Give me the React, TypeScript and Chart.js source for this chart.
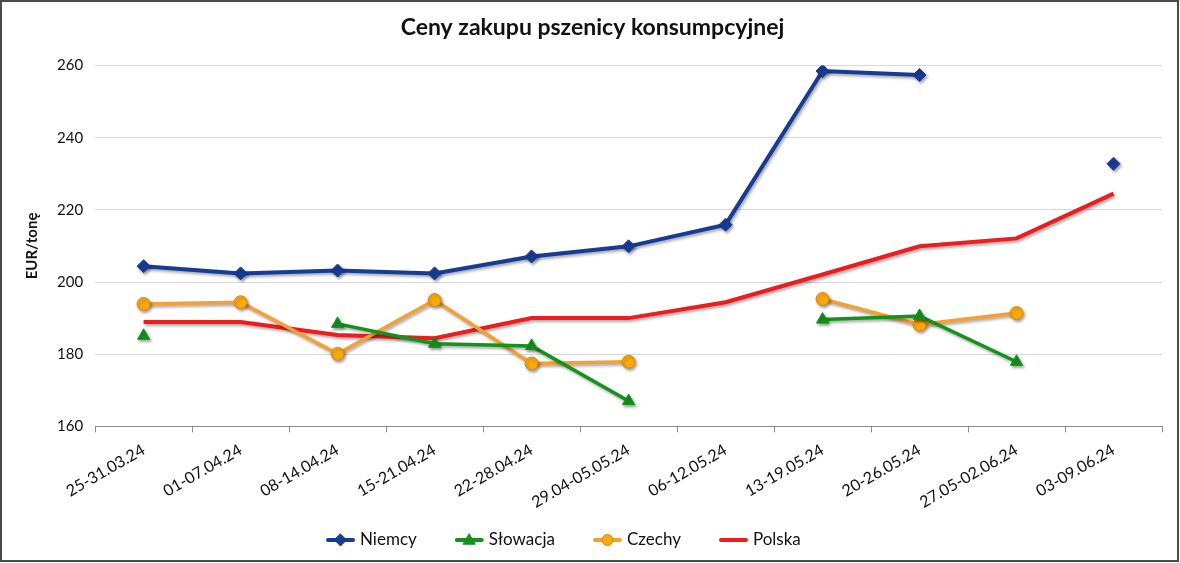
import React, { useEffect, useRef } from "react";
import { Chart, registerables } from "chart.js";

Chart.register(...registerables);

const categories = [
  "25-31.03.24",
  "01-07.04.24",
  "08-14.04.24",
  "15-21.04.24",
  "22-28.04.24",
  "29.04-05.05.24",
  "06-12.05.24",
  "13-19.05.24",
  "20-26.05.24",
  "27.05-02.06.24",
  "03-09.06.24",
];

const niemcy = [204.4, 202.4, 203.2, 202.4, 207.1, 209.9, 215.9, 258.5, 257.4, null, 232.8];
const slowacja = [185.1, null, 188.4, 182.9, 182.3, 167.0, null, 189.6, 190.6, 177.9, null];
const czechy = [193.9, 194.4, 180.1, 195.0, 177.4, 177.9, null, 195.3, 188.2, 191.4, null];
const polska = [188.9, 188.9, 185.3, 184.4, 190.0, 190.0, 194.4, 202.1, 209.9, 212.1, 224.5];

const yTicks = [160, 180, 200, 220, 240, 260];

const FONT = "Lato, 'Open Sans', sans-serif";

const seriesNames = ["Niemcy", "Słowacja", "Czechy", "Polska"];
const seriesColors = ["#173C94", "#12931A", "#F5A033", "#EE1C1C"];
const markerStyles = ["rectRot", "triangle", "circle", false] as const;

export default function App() {
  const ref = useRef<HTMLCanvasElement | null>(null);

  useEffect(() => {
    document.body.style.margin = "0";
    const canvas = ref.current;
    if (!canvas) return;

    const framePlugin = {
      id: "frame",
      beforeDraw(chart: any) {
        const { ctx, width, height } = chart;
        ctx.save();
        ctx.fillStyle = "#ffffff";
        ctx.fillRect(0, 0, width, height);
        ctx.restore();
      },
      afterDraw(chart: any) {
        const { ctx, width, height } = chart;
        ctx.save();
        ctx.strokeStyle = "#4a4a4a";
        ctx.lineWidth = 2;
        ctx.strokeRect(1, 1, width - 3, height - 3);
        ctx.restore();
      },
    };

    const shadowPlugin = {
      id: "shadow",
      beforeDatasetsDraw(chart: any) {
        const ctx = chart.ctx;
        ctx.save();
        ctx.shadowColor = "rgba(0,0,0,0.35)";
        ctx.shadowBlur = 3;
        ctx.shadowOffsetX = 1.5;
        ctx.shadowOffsetY = 2;
      },
      afterDatasetsDraw(chart: any) {
        chart.ctx.restore();
      },
    };

    const legendPlugin = {
      id: "customLegend",
      afterDraw(chart: any) {
        const ctx = chart.ctx;
        ctx.save();
        ctx.font = `17px ${FONT}`;
        const iconW = 27;
        const gap = 6;
        const spacing = 39;
        const widths = seriesNames.map((n) => iconW + gap + ctx.measureText(n).width);
        let x = 327;
        const y = 540;
        chart.data.datasets.forEach((ds: any, i: number) => {
          ctx.save();
          ctx.strokeStyle = ds.borderColor;
          ctx.lineWidth = 4;
          ctx.lineCap = "round";
          ctx.beginPath();
          ctx.moveTo(x + 1, y);
          ctx.lineTo(x + iconW - 1, y);
          ctx.stroke();
          if (ds.pointStyle) {
            ctx.fillStyle = ds.pointBackgroundColor;
            ctx.strokeStyle = ds.pointBorderColor;
            ctx.lineWidth = 1;
            const cx = x + iconW / 2;
            const r = 6;
            ctx.beginPath();
            if (ds.pointStyle === "rectRot") {
              ctx.moveTo(cx, y - r);
              ctx.lineTo(cx + r, y);
              ctx.lineTo(cx, y + r);
              ctx.lineTo(cx - r, y);
              ctx.closePath();
            } else if (ds.pointStyle === "triangle") {
              ctx.moveTo(cx, y - r);
              ctx.lineTo(cx + r, y + r * 0.7);
              ctx.lineTo(cx - r, y + r * 0.7);
              ctx.closePath();
            } else {
              ctx.arc(cx, y, 5.5, 0, Math.PI * 2);
            }
            ctx.fill();
            ctx.stroke();
          }
          ctx.restore();
          ctx.fillStyle = "#111111";
          ctx.textBaseline = "middle";
          ctx.textAlign = "left";
          ctx.fillText(seriesNames[i], x + iconW + gap, y);
          x += widths[i] + spacing;
        });
        ctx.restore();
      },
    };

    const datasets = [niemcy, slowacja, czechy, polska].map((data, i) => ({
      label: seriesNames[i],
      data,
      borderColor: seriesColors[i],
      backgroundColor: seriesColors[i],
      borderWidth: i === 0 || i === 3 ? 4 : 3.5,
      pointStyle: markerStyles[i] as any,
      pointRadius: markerStyles[i] ? (i === 1 ? 7 : 6.5) : 0,
      pointBackgroundColor: i === 2 ? "#FFA90A" : seriesColors[i],
      pointBorderColor: i === 2 ? "#D98A10" : seriesColors[i],
      pointBorderWidth: 1,
      tension: 0,
      spanGaps: false,
    }));

    const chart = new Chart(canvas, {
      type: "line",
      data: { labels: categories, datasets: datasets as any },
      plugins: [framePlugin, shadowPlugin, legendPlugin],
      options: {
        animation: false,
        responsive: false,
        maintainAspectRatio: false,
        layout: { padding: { left: 23, right: 18, top: 4, bottom: 43 } },
        plugins: {
          legend: { display: false },
          tooltip: { enabled: false },
          title: {
            display: true,
            text: "Ceny zakupu pszenicy konsumpcyjnej",
            color: "#111111",
            font: { family: FONT, size: 23, weight: "bold" },
            padding: { top: 10, bottom: 24 },
          },
        },
        scales: {
          x: {
            offset: true,
            grid: {
              offset: true,
              drawOnChartArea: false,
              drawTicks: true,
              tickLength: 6,
              color: "#8c8c8c",
            },
            border: { color: "#8c8c8c", width: 1 },
            ticks: {
              color: "#111111",
              font: { family: FONT, size: 16 },
              maxRotation: 30,
              minRotation: 30,
              autoSkip: false,
              padding: 8,
            },
          },
          y: {
            min: yTicks[0],
            max: yTicks[yTicks.length - 1],
            afterBuildTicks(axis: any) {
              axis.ticks = yTicks.map((v) => ({ value: v }));
            },
            grid: { color: "#d9d9d9", lineWidth: 1, drawTicks: false },
            border: { display: false },
            ticks: {
              color: "#111111",
              font: { family: FONT, size: 15 },
              padding: 12,
            },
            title: {
              display: true,
              text: "EUR/tonę",
              color: "#111111",
              font: { family: FONT, size: 15, weight: "bold" },
              padding: { top: 0, bottom: 4 },
            },
          },
        },
      },
    });
    return () => chart.destroy();
  }, []);

  return (
    <div style={{ width: 1180, height: 563 }}>
      <canvas ref={ref} width={1180} height={563} style={{ display: "block" }} />
    </div>
  );
}
